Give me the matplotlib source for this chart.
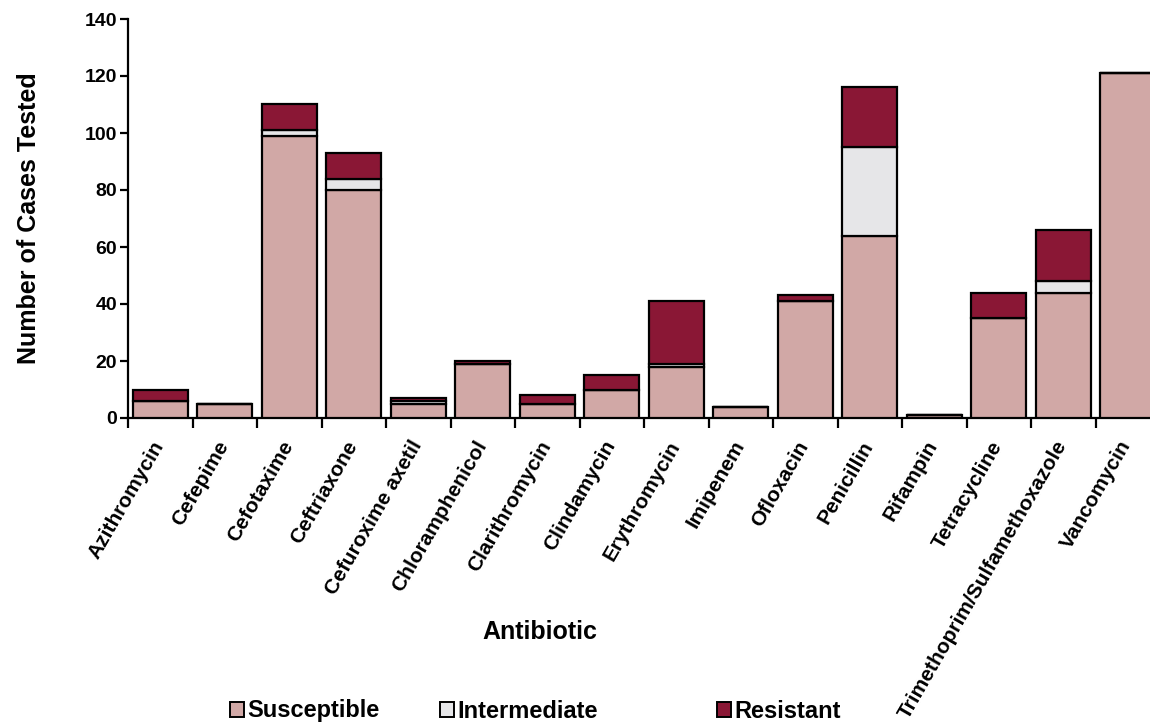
import matplotlib.pyplot as plt
import matplotlib.transforms as mtransforms
import numpy as np
from matplotlib.patches import Patch

plt.rcParams['font.family'] = ['Liberation Sans', 'DejaVu Sans']
plt.rcParams['font.weight'] = 'bold'

antibiotics = ["Azithromycin", "Cefepime", "Cefotaxime", "Ceftriaxone",
               "Cefuroxime axetil", "Chloramphenicol", "Clarithromycin",
               "Clindamycin", "Erythromycin", "Imipenem", "Ofloxacin",
               "Penicillin", "Rifampin", "Tetracycline",
               "Trimethoprim/Sulfamethoxazole", "Vancomycin"]
susceptible = [6, 5, 99, 80, 5, 19, 5, 10, 18, 4, 41, 64, 1, 35, 44, 121]
intermediate = [0, 0, 2, 4, 1, 0, 0, 0, 1, 0, 0, 31, 0, 0, 4, 0]
resistant = [4, 0, 9, 9, 1, 1, 3, 5, 22, 0, 2, 21, 0, 9, 18, 0]

colors = {"Susceptible": "#D1A8A6", "Intermediate": "#E6E6E8", "Resistant": "#8A1735"}

fig = plt.figure(figsize=(11.5, 7.27), dpi=100)
ax = fig.add_axes([128 / 1150, 1 - 418 / 727, 1032 / 1150, 399 / 727])

x = np.arange(len(antibiotics))
s = np.array(susceptible)
i = np.array(intermediate)
r = np.array(resistant)
kw = dict(width=0.85, edgecolor="black", linewidth=1.6, zorder=3)
ax.bar(x, s, color=colors["Susceptible"], **kw)
ax.bar(x, i, bottom=s, color=colors["Intermediate"], **kw)
ax.bar(x, r, bottom=s + i, color=colors["Resistant"], **kw)

ax.set_xlim(-0.5, len(antibiotics) - 0.5)
ax.set_ylim(0, 140)
ax.set_yticks(range(0, 141, 20))
ax.tick_params(axis="y", labelsize=14, width=1.6, length=6, direction="out", pad=2)
# tick marks sit between categories, labels sit under the bars
ax.set_xticks(np.arange(-0.5, len(antibiotics), 1.0))
ax.set_xticklabels([])
ax.tick_params(axis="x", width=1.6, length=7, direction="out")
ax.set_xticks(x, minor=True)
ax.set_xticklabels(antibiotics, minor=True, rotation=60, ha="right",
                   rotation_mode="anchor", fontsize=15)
ax.tick_params(axis="x", which="minor", length=0, pad=14)
shift = mtransforms.ScaledTranslation(-9 / 100, 0, fig.dpi_scale_trans)
for lab in ax.get_xticklabels(minor=True):
    lab.set_transform(lab.get_transform() + shift)

for side in ["top", "right"]:
    ax.spines[side].set_visible(False)
for side in ["left", "bottom"]:
    ax.spines[side].set_linewidth(1.6)

fig.text(29 / 1150, 1 - 218 / 727, "Number of Cases Tested", fontsize=18,
         fontweight="bold", rotation=90, ha="center", va="center")
fig.text(540 / 1150, 1 - 632 / 727, "Antibiotic", fontsize=18, fontweight="bold",
         ha="center", va="center")

# one legend entry per slot, placed like the original key
legend_x = [230, 440, 717]
for (name, c), lx in zip(colors.items(), legend_x):
    h = Patch(facecolor=c, edgecolor="black", linewidth=1.4, label=name)
    fig.legend(handles=[h], loc="center left", bbox_to_anchor=(lx / 1150, 1 - 711 / 727),
               frameon=False, fontsize=17, handlelength=0.6, handleheight=0.6,
               handletextpad=0.15, borderpad=0, borderaxespad=0)

fig.savefig("out.png", dpi=100)
